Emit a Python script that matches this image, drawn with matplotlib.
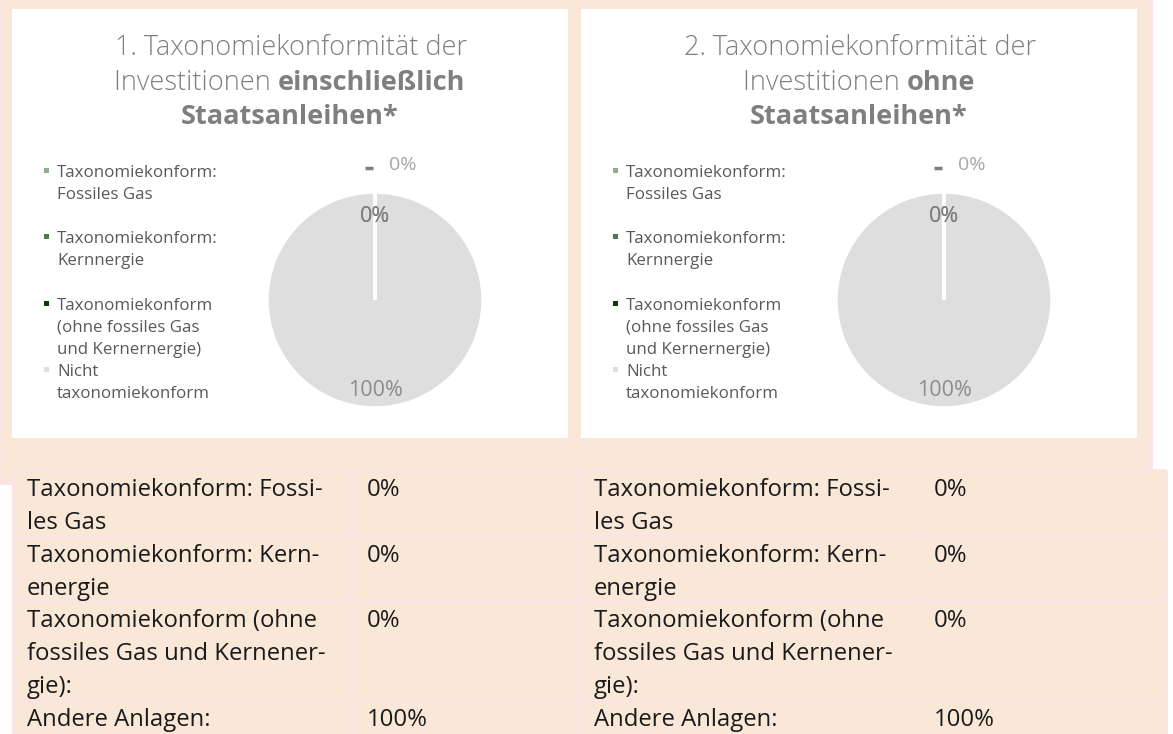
import matplotlib
matplotlib.use("Agg")
import matplotlib.pyplot as plt
from matplotlib.patches import Rectangle

W, H = 1173, 734

# chart data
legend_labels = ["Taxonomiekonform:\nFossiles Gas",
                 "Taxonomiekonform:\nKernnergie",
                 "Taxonomiekonform\n(ohne fossiles Gas\nund Kernernergie)",
                 "Nicht\ntaxonomiekonform"]
values_incl = [0, 0, 0, 100]
values_excl = [0, 0, 0, 100]
slice_colors = ["#8fae8f", "#4f7a4f", "#0b3a0b", "#dedede"]

titles = [("1. Taxonomiekonformität der", "Investitionen ", "einschließlich", "Staatsanleihen*"),
          ("2. Taxonomiekonformität der", "Investitionen ", "ohne", "Staatsanleihen*")]

# table data
row_labels = ["Taxonomiekonform: Fossi-\nles Gas",
              "Taxonomiekonform: Kern-\nenergie",
              "Taxonomiekonform (ohne\nfossiles Gas und Kernener-\ngie):",
              "Andere Anlagen:"]
table_incl = ["0%", "0%", "0%", "100%"]
table_excl = ["0%", "0%", "0%", "100%"]

peach = "#f9e7d7"
pink = "#fde4e4"
title_grey = "#7f7f7f"
font = "Open Sans"

fig = plt.figure(figsize=(W / 100, H / 100), dpi=100)
ax = fig.add_axes([0, 0, 1, 1])
ax.set_xlim(0, W)
ax.set_ylim(H, 0)
ax.axis("off")

# background panel
ax.add_patch(Rectangle((0, 0), 1153, 485, facecolor=pink, edgecolor="none"))
ax.add_patch(Rectangle((2, 0), 1146, 482, facecolor=peach, edgecolor="none"))

boxes = [(12, 568), (581, 1137)]
renderer = fig.canvas.get_renderer()

for k, (x0, x1) in enumerate(boxes):
    ax.add_patch(Rectangle((x0, 9), x1 - x0, 429, facecolor="white", edgecolor="none"))
    cx = (x0 + x1) / 2
    t1, t2a, t2b, t3 = titles[k]
    ax.text(cx + 1, 55, t1, ha="center", va="baseline", fontsize=19.5, color=title_grey,
            family=font, fontweight="light")
    # second line: light + bold, centred together
    ta = ax.text(0, 90.5, t2a, ha="left", va="baseline", fontsize=19.5, color=title_grey,
                 family=font, fontweight="light")
    tb = ax.text(0, 90.5, t2b, ha="left", va="baseline", fontsize=19.5, color=title_grey,
                 family=font, fontweight="bold")
    wa = ta.get_window_extent(renderer).width
    wb = tb.get_window_extent(renderer).width
    start = cx - (wa + wb) / 2
    ta.set_x(start)
    tb.set_x(start + wa)
    ax.text(cx, 124.5, t3, ha="center", va="baseline", fontsize=19.5, color=title_grey,
            family=font, fontweight="bold")

    # legend
    for i, lab in enumerate(legend_labels):
        y = 177 + i * 66.3
        ax.add_patch(Rectangle((x0 + 32, y - 9), 5, 5, facecolor=slice_colors[i], edgecolor="none"))
        for j, line in enumerate(lab.split("\n")):
            ax.text(x0 + 45, y + j * 22, line, ha="left", va="baseline", fontsize=12.2,
                    color="#595959", family=font)

    # pie
    vals = [values_incl, values_excl][k]
    pcx, pcy, r = x0 + 363, 300, 108
    h = 1.7 * r
    pax = fig.add_axes([(pcx - h) / W, (H - pcy - h) / H, 2 * h / W, 2 * h / H])
    wedges, _ = pax.pie(vals, colors=slice_colors, startangle=90, counterclock=False, radius=1,
                        wedgeprops=dict(edgecolor="white", linewidth=2.5))
    for w, v in zip(wedges, vals):
        if v == 0:
            w.set_zorder(3)
    pax.set_xlim(-1.7, 1.7)
    pax.set_ylim(-1.7, 1.7)
    pax.set_aspect("equal")
    pax.axis("off")
    labs = [f"{v:.0f}%" for v in vals]
    pax.text(0.26, 1.20, labs[0], ha="center", va="baseline", fontsize=14, color="#a6a6a6", family=font)
    pax.plot([-0.09, -0.02], [1.22, 1.22], color="#7f7f7f", lw=2.5, solid_capstyle="butt")
    pax.text(0, 0.72, labs[1], ha="center", va="baseline", fontsize=15.5, color="#7f7f7f", family=font,
             zorder=5)
    pax.text(0, 0.72, labs[2], ha="center", va="baseline", fontsize=15.5, color="#7f7f7f", family=font,
             zorder=5)
    pax.text(0, -0.89, labs[3], ha="center", va="baseline", fontsize=15.5, color="#8c8c8c", family=font)

# table
tx0, tx1 = 13, 1166
col_x = [13, 351, 579, 918, 1166]
row_y = [470, 536, 601, 700, 770]
ax.add_patch(Rectangle((tx0, 470), tx1 - tx0, 300, facecolor=peach, edgecolor="none"))
for y in row_y[:-1]:
    ax.plot([tx0, tx1], [y, y], color=pink, lw=2, solid_capstyle="butt")
for x in col_x:
    ax.plot([x, x], [470, H], color=pink, lw=2, solid_capstyle="butt")

for i, lab in enumerate(row_labels):
    for c, (xt, vals) in enumerate([(27, table_incl), (594, table_excl)]):
        for j, line in enumerate(lab.split("\n")):
            ax.text(xt, row_y[i] + 26 + j * 33, line, ha="left", va="baseline", fontsize=17.2,
                    color="#1a1a1a", family=font)
        ax.text(col_x[2 * c + 1] + 16, row_y[i] + 26, vals[i], ha="left", va="baseline",
                fontsize=17.2, color="#1a1a1a", family=font)

fig.savefig("out.png", dpi=100)
